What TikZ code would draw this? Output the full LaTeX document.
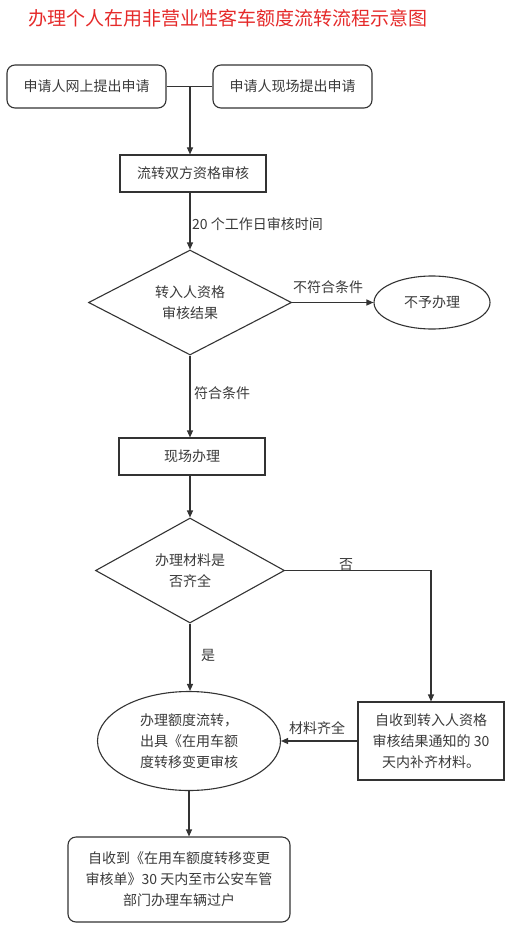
\documentclass[tikz,border=0pt]{standalone}
\usepackage{fontspec}
\setmainfont{Noto Sans CJK SC}
\usetikzlibrary{shapes.geometric,arrows.meta}
\definecolor{ln}{HTML}{333333}
\definecolor{tx}{HTML}{3A3A3A}
\definecolor{ttl}{HTML}{E52A2A}
\begin{document}
\begin{tikzpicture}[x=1pt,y=-1pt,
  base/.style={draw=ln, line width=1.1pt, text=tx, inner sep=0pt, align=center, font=\fontsize{14}{21}\selectfont},
  rbox/.style={base, rounded corners=8pt},
  sbox/.style={base},
  dia/.style={base, diamond, aspect=2},
  ell/.style={base, ellipse},
  lab/.style={text=tx, inner sep=0pt, font=\fontsize{14}{21}\selectfont},
  arr/.style={draw=ln, line width=1.1pt, -{Triangle[length=7pt,width=6pt]}},
  con/.style={draw=ln, line width=1.1pt}]
\useasboundingbox (0,0) rectangle (511,928);
\node[text=ttl, font=\fontsize{19}{19}\selectfont, inner sep=0pt] (title) at (227.5,18) {办理个人在用非营业性客车额度流转流程示意图};
\node[rbox, minimum width=159, minimum height=43] (b1) at (86.5,86.5) {申请人网上提出申请};
\node[rbox, minimum width=159, minimum height=43] (b2) at (292.5,86.5) {申请人现场提出申请};
\coordinate (j) at (190,86.5);
\node[sbox, minimum width=146, minimum height=37] (b3) at (193,173.5) {流转双方资格审核};
\node[dia, minimum width=203, minimum height=105] (d1) at (190,302.5) {转入人资格\\审核结果};
\node[ell, minimum width=116, minimum height=53] (e1) at (432,302.5) {不予办理};
\node[sbox, minimum width=146, minimum height=37] (b4) at (192,456.5) {现场办理};
\node[dia, minimum width=189, minimum height=105] (d2) at (190,570.5) {办理材料是\\否齐全};
\node[sbox, minimum width=146, minimum height=78] (b5) at (431,741) {自收到转入人资格\\审核结果通知的 30\\天内补齐材料。};
\node[ell, minimum width=183, minimum height=99] (e2) at (189,741) {办理额度流转，\\出具《在用车额\\度转移变更审核};
\node[rbox, minimum width=222, minimum height=85] (b6) at (179,879.5) {自收到《在用车额度转移变更\\审核单》30 天内至市公安车管\\部门办理车辆过户};
% labels
\node[lab, anchor=west] (l1) at (192,224) {20 个工作日审核时间};
\node[lab] (l2) at (328,287) {不符合条件};
\node[lab] (l3) at (222,393) {符合条件};
\node[lab] (l4) at (346,565) {否};
\node[lab] (l5) at (208,655) {是};
\node[lab] (l6) at (317,728) {材料齐全};
% connectors
\draw[con] (b1.east) -- (b2.west);
\draw[arr] (j) -- (j |- b3.north);
\draw[arr] (j |- b3.south) -- (d1.north);
\draw[arr] (d1.east) -- (e1.west);
\draw[arr] (d1.south) -- (d1.south |- b4.north);
\draw[arr] (d1.south |- b4.south) -- (d2.north);
\draw[arr] (d2.east) -| (b5.north);
\draw[arr] (d2.south) -- (d2.south |- e2.north);
\draw[arr] (b5.west) -- (e2.east);
\draw[arr] (e2.south) -- (e2.south |- b6.north);
\end{tikzpicture}
\end{document}
